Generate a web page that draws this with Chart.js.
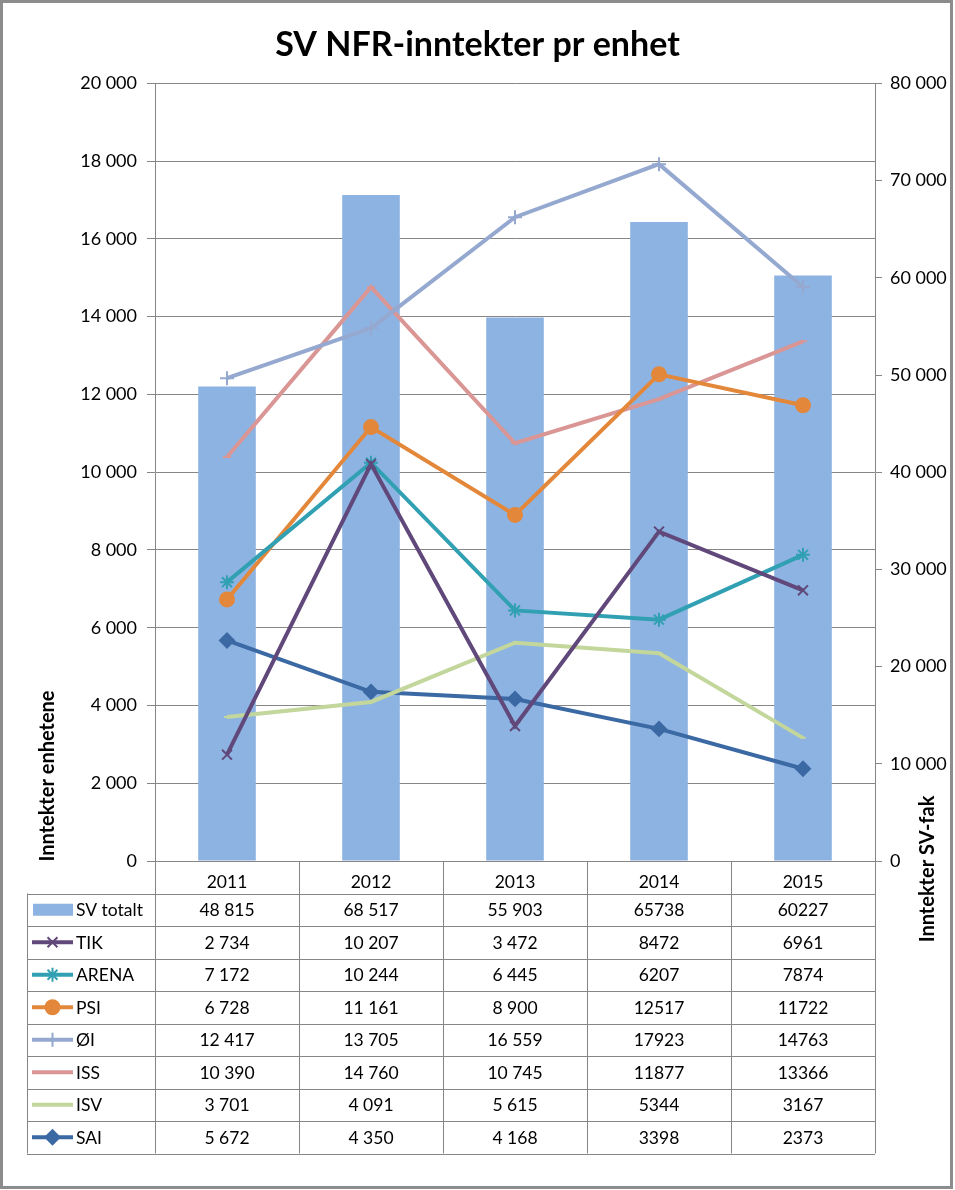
<!DOCTYPE html>
<html>
<head>
<meta charset="utf-8">
<script src="https://cdn.jsdelivr.net/npm/chart.js@4.4.1/dist/chart.umd.min.js"></script>
<style>
    body { margin: 0; background: #fff; }
    #wrap { position: relative; width: 955px; height: 1190px; }
</style>
</head>
<body>
<div id="wrap"><canvas id="nfrChart" width="955" height="1190"></canvas></div>
<script>
const years = ['2011', '2012', '2013', '2014', '2015'];
const svTotalt = [48815, 68517, 55903, 65738, 60227];
const tik = [2734, 10207, 3472, 8472, 6961];
const arena = [7172, 10244, 6445, 6207, 7874];
const psi = [6728, 11161, 8900, 12517, 11722];
const oi = [12417, 13705, 16559, 17923, 14763];
const iss = [10390, 14760, 10745, 11877, 13366];
const isv = [3701, 4091, 5615, 5344, 3167];
const sai = [5672, 4350, 4168, 3398, 2373];
// the source table only uses a thousands space for these years
const groupedYears = ['2011', '2012', '2013'];

const FONT = 'Lato, "Open Sans", sans-serif';
const GRID = '#868686';

function fmt(v) {
    return String(v).replace(/\B(?=(\d{3})+(?!\d))/g, ' ');
}

function lineSet(label, data, color, style, radius) {
    return {
        type: 'line',
        label: label,
        data: data,
        yAxisID: 'y',
        borderColor: color,
        backgroundColor: color,
        borderWidth: 4,
        tension: 0,
        pointStyle: style,
        pointRadius: radius,
        pointBorderWidth: 2,
        pointHoverRadius: radius,
        order: 1
    };
}

// white page + grey frame round everything
const framePlugin = {
    id: 'frame',
    beforeDraw(chart) {
        const ctx = chart.ctx;
        ctx.save();
        ctx.fillStyle = '#fff';
        ctx.fillRect(0, 0, chart.width, chart.height);
        ctx.restore();
    },
    afterDraw(chart) {
        const ctx = chart.ctx;
        ctx.save();
        ctx.strokeStyle = '#8c8c8c';
        ctx.lineWidth = 3;
        ctx.strokeRect(1.5, 1.5, 950, 1186);
        ctx.restore();
    }
};

// axis titles sit low, like in the Excel original
const axisTitlePlugin = {
    id: 'axisTitles',
    afterDraw(chart) {
        const ctx = chart.ctx;
        ctx.save();
        ctx.fillStyle = '#000';
        ctx.font = 'bold 20px ' + FONT;
        ctx.textAlign = 'center';
        ctx.textBaseline = 'middle';
        ctx.translate(48, 776);
        ctx.rotate(-Math.PI / 2);
        ctx.fillText('Inntekter enhetene', 0, 0);
        ctx.restore();

        ctx.save();
        ctx.fillStyle = '#000';
        ctx.font = 'bold 20px ' + FONT;
        ctx.textAlign = 'center';
        ctx.textBaseline = 'middle';
        ctx.translate(928, 869);
        ctx.rotate(-Math.PI / 2);
        ctx.fillText('Inntekter SV-fak', 0, 0);
        ctx.restore();
    }
};

// data table under the x axis, with the legend keys in the first column
const tablePlugin = {
    id: 'dataTable',
    afterDraw(chart) {
        const ctx = chart.ctx;
        const x = chart.scales.x;
        const area = chart.chartArea;
        const rowH = 32.5;
        const headTop = area.bottom;
        const bodyTop = headTop + rowH;
        const tableLeft = 27;
        const datasets = chart.data.datasets;
        const bottom = bodyTop + rowH * datasets.length;
        const step = x.getPixelForValue(1) - x.getPixelForValue(0);
        const edges = years.map((y, i) => x.getPixelForValue(i) - step / 2);
        edges.push(area.right);
        const px = v => Math.round(v) + 0.5;

        ctx.save();
        ctx.strokeStyle = GRID;
        ctx.lineWidth = 1;
        ctx.beginPath();
        edges.forEach(e => {
            ctx.moveTo(px(e), headTop);
            ctx.lineTo(px(e), bottom);
        });
        ctx.moveTo(px(tableLeft), bodyTop);
        ctx.lineTo(px(tableLeft), bottom);
        for (let r = 0; r <= datasets.length; r++) {
            const yy = px(bodyTop + r * rowH);
            ctx.moveTo(tableLeft, yy);
            ctx.lineTo(area.right, yy);
        }
        ctx.stroke();

        ctx.font = '17.5px ' + FONT;
        ctx.fillStyle = '#000';
        ctx.textBaseline = 'middle';
        datasets.forEach((ds, r) => {
            const cy = bodyTop + r * rowH + rowH / 2;
            // legend key
            if (ds.type === 'bar') {
                ctx.fillStyle = ds.backgroundColor;
                ctx.fillRect(33, cy - 6, 40, 12);
            } else {
                ctx.strokeStyle = ds.borderColor;
                ctx.lineWidth = 4;
                ctx.beginPath();
                ctx.moveTo(32, cy);
                ctx.lineTo(73, cy);
                ctx.stroke();
                ctx.fillStyle = ds.backgroundColor;
                ctx.lineWidth = ds.pointBorderWidth;
                if (ds.pointRadius > 0 && Chart.helpers && Chart.helpers.drawPoint) {
                    Chart.helpers.drawPoint(ctx, {
                        pointStyle: ds.pointStyle,
                        radius: ds.pointRadius,
                        borderWidth: ds.pointBorderWidth,
                        rotation: 0
                    }, 52.5, cy);
                }
            }
            ctx.fillStyle = '#000';
            ctx.textAlign = 'left';
            ctx.fillText(ds.label, 76, cy + 1);
            ctx.textAlign = 'center';
            ds.data.forEach((v, i) => {
                const txt = groupedYears.includes(years[i]) ? fmt(v) : String(v);
                ctx.fillText(txt, x.getPixelForValue(i), cy + 1);
            });
        });
        ctx.restore();
    }
};

const ctx = document.getElementById('nfrChart').getContext('2d');
const nfrChart = new Chart(ctx, {
    data: {
        labels: years,
        datasets: [{
            type: 'bar',
            label: 'SV totalt',
            data: svTotalt,
            yAxisID: 'y1',
            backgroundColor: '#8db3e2',
            borderWidth: 0,
            barPercentage: 0.4,
            categoryPercentage: 1,
            order: 10
        },
        lineSet('TIK', tik, '#60497a', 'crossRot', 7),
        lineSet('ARENA', arena, '#31a0b2', 'star', 7),
        lineSet('PSI', psi, '#e3873b', 'circle', 7),
        lineSet('ØI', oi, '#95a9d0', 'cross', 7),
        lineSet('ISS', iss, '#d99694', 'line', 4),
        lineSet('ISV', isv, '#c3d69b', 'line', 3),
        lineSet('SAI', sai, '#3b69a3', 'rectRot', 7)
        ]
    },
    options: {
        responsive: false,
        animation: false,
        layout: {
            padding: { left: 0, right: 0, top: 0, bottom: 296.5 }
        },
        plugins: {
            legend: { display: false },
            tooltip: { enabled: false },
            title: {
                display: true,
                text: 'SV NFR-inntekter pr enhet',
                color: '#000',
                font: { family: FONT, size: 34, weight: 'bold' },
                padding: { top: 25, bottom: 17.6 }
            }
        },
        scales: {
            x: {
                grid: { display: false },
                border: { display: true, color: GRID },
                ticks: {
                    color: '#000',
                    padding: 3,
                    font: { family: FONT, size: 17.5 }
                },
                afterFit: s => { s.height = 32.5; }
            },
            y: {
                position: 'left',
                min: 0,
                max: 20000,
                ticks: {
                    stepSize: 2000,
                    padding: 10,
                    color: '#000',
                    font: { family: FONT, size: 18 },
                    callback: v => fmt(v)
                },
                grid: { color: GRID, tickLength: 8 },
                border: { color: GRID },
                afterFit: s => { s.width = 155; }
            },
            y1: {
                position: 'right',
                min: 0,
                max: 80000,
                ticks: {
                    stepSize: 10000,
                    padding: 8,
                    color: '#000',
                    font: { family: FONT, size: 18 },
                    callback: v => fmt(v)
                },
                grid: { drawOnChartArea: false, color: GRID, tickLength: 7 },
                border: { color: GRID },
                afterFit: s => { s.width = 80; }
            }
        }
    },
    plugins: [framePlugin, axisTitlePlugin, tablePlugin]
});
</script>
</body>
</html>
